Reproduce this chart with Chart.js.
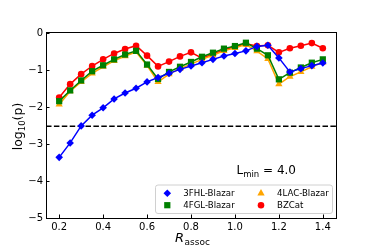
<!DOCTYPE html>
<html>
<head>
<meta charset="utf-8">
<script src="https://cdn.jsdelivr.net/npm/chart.js@4"></script>
<style>
  html, body { margin: 0; padding: 0; background: #fff; }
  #wrap { width: 374px; height: 249px; }
</style>
</head>
<body>
<div id="wrap"><canvas id="chart" width="374" height="249"></canvas></div>
<script>
// data
const rAssoc = [0.2, 0.25, 0.3, 0.35, 0.4, 0.45, 0.5, 0.55, 0.6, 0.65, 0.7, 0.75, 0.8,
                0.85, 0.9, 0.95, 1.0, 1.05, 1.1, 1.15, 1.2, 1.25, 1.3, 1.35, 1.4];
const fhlBlazar = [-3.36, -2.97, -2.51, -2.22, -2.02, -1.78, -1.62, -1.49, -1.32, -1.20, -1.09, -0.98, -0.89,
                   -0.80, -0.71, -0.62, -0.55, -0.48, -0.36, -0.33, -0.67, -1.05, -0.96, -0.88, -0.81];
const fglBlazar = [-1.84, -1.55, -1.28, -1.03, -0.87, -0.71, -0.58, -0.48, -0.85, -1.24, -1.05, -0.91, -0.78,
                   -0.64, -0.53, -0.42, -0.35, -0.26, -0.42, -0.60, -1.25, -1.07, -0.93, -0.80, -0.71];
const lacBlazar = [-1.93, -1.57, -1.32, -1.09, -0.91, -0.75, -0.62, -0.51, -0.88, -1.32, -1.11, -0.96, -0.84,
                   -0.71, -0.60, -0.48, -0.40, -0.31, -0.49, -0.70, -1.38, -1.18, -1.05, -0.91, -0.79];
const bzCat = [-1.74, -1.38, -1.11, -0.89, -0.71, -0.55, -0.43, -0.34, -0.61, -0.90, -0.77, -0.63, -0.52,
               -0.68, -0.57, -0.45, -0.37, -0.29, -0.35, -0.33, -0.52, -0.41, -0.34, -0.27, -0.41];
const seriesNames = ['3FHL-Blazar', '4FGL-Blazar', '4LAC-Blazar', 'BZCat'];
const xTicks = [0.2, 0.4, 0.6, 0.8, 1.0, 1.2, 1.4];
const yTicks = [-5, -4, -3, -2, -1, 0];
const threshold = -2.52;
const lMin = '4.0';

const FONT = 'DejaVu Sans';
const toPts = ys => ys.map((y, i) => ({ x: rAssoc[i], y: y }));

function mkSet(label, ys, color, style, r) {
    return {
        label: label,
        data: toPts(ys),
        showLine: true,
        borderColor: color,
        backgroundColor: color,
        borderWidth: 1.5,
        pointStyle: style,
        pointRadius: r,
        pointBorderWidth: 0,
        pointBackgroundColor: color
    };
}

// draw a marker the same way for the legend
function drawMarker(ctx, style, x, y, r, color) {
    ctx.save();
    ctx.fillStyle = color;
    ctx.beginPath();
    if (style === 'rectRot') {
        ctx.moveTo(x, y - r); ctx.lineTo(x + r, y); ctx.lineTo(x, y + r); ctx.lineTo(x - r, y);
    } else if (style === 'rect') {
        const s = r * Math.SQRT1_2;
        ctx.rect(x - s, y - s, 2 * s, 2 * s);
    } else if (style === 'triangle') {
        ctx.moveTo(x, y - r);
        ctx.lineTo(x + r * 0.866, y + r * 0.5);
        ctx.lineTo(x - r * 0.866, y + r * 0.5);
    } else {
        ctx.arc(x, y, r, 0, Math.PI * 2);
    }
    ctx.closePath();
    ctx.fill();
    ctx.restore();
}

const decor = {
    id: 'decor',
    beforeDatasetsDraw(chart) {
        const ctx = chart.ctx, a = chart.chartArea;
        const y = chart.scales.y.getPixelForValue(threshold);
        ctx.save();
        ctx.strokeStyle = '#000';
        ctx.lineWidth = 1.5;
        ctx.setLineDash([5.5, 2.4]);
        ctx.beginPath();
        ctx.moveTo(a.left, y);
        ctx.lineTo(a.right, y);
        ctx.stroke();
        ctx.restore();
    },
    afterDraw(chart) {
        const ctx = chart.ctx, a = chart.chartArea;
        const xs = chart.scales.x, ys = chart.scales.y;
        ctx.save();
        // frame
        ctx.strokeStyle = '#000';
        ctx.lineWidth = 1;
        ctx.strokeRect(Math.round(a.left) + 0.5, Math.round(a.top) + 0.5,
                       Math.round(a.right - a.left), Math.round(a.bottom - a.top));
        // inward ticks
        ctx.beginPath();
        xTicks.forEach(v => {
            const px = Math.round(xs.getPixelForValue(v)) + 0.5;
            ctx.moveTo(px, a.bottom);
            ctx.lineTo(px, a.bottom - 3.5);
        });
        yTicks.forEach(v => {
            const py = Math.round(ys.getPixelForValue(v)) + 0.5;
            ctx.moveTo(a.left, py);
            ctx.lineTo(a.left + 3.5, py);
        });
        ctx.stroke();

        // axis titles
        ctx.fillStyle = '#000';
        ctx.textBaseline = 'alphabetic';
        ctx.font = 'italic 13px ' + FONT;
        ctx.textAlign = 'left';
        const rx = 175;
        ctx.fillText('R', rx, 242);
        const rw = ctx.measureText('R').width;
        ctx.font = '9px ' + FONT;
        ctx.fillText('assoc', rx + rw + 0.5, 245);

        ctx.save();
        ctx.translate(22, 126.5);
        ctx.rotate(-Math.PI / 2);
        ctx.textAlign = 'left';
        const parts = [['log', 0, 12.5], ['10', 3, 8.5], ['(p)', 0, 12.5]];
        let total = 0;
        parts.forEach(p => { ctx.font = p[2] + 'px ' + FONT; total += ctx.measureText(p[0]).width; });
        let cx = -total / 2;
        parts.forEach(p => {
            ctx.font = p[2] + 'px ' + FONT;
            ctx.fillText(p[0], cx, p[1]);
            cx += ctx.measureText(p[0]).width;
        });
        ctx.restore();

        // L_min annotation
        let lx = 236.5;
        ctx.font = '12px ' + FONT;
        ctx.fillText('L', lx, 174);
        lx += ctx.measureText('L').width;
        ctx.font = '8.5px ' + FONT;
        ctx.fillText('min', lx, 177);
        lx += ctx.measureText('min').width;
        ctx.font = '12px ' + FONT;
        ctx.fillText(' = ' + lMin, lx, 174);

        // legend
        const bx = 155.5, by = 185, bw = 177, bh = 28.5;
        ctx.beginPath();
        ctx.roundRect(bx, by, bw, bh, 2.5);
        ctx.fillStyle = 'rgba(255,255,255,0.8)';
        ctx.fill();
        ctx.strokeStyle = '#d0d0d0';
        ctx.lineWidth = 1;
        ctx.stroke();
        const spots = [[167.3, 193.3], [167.3, 205.2], [261, 193.3], [261, 205.2]];
        chart.data.datasets.forEach((d, i) => {
            const [mx, my] = spots[i];
            drawMarker(ctx, d.pointStyle, mx, my, d.pointRadius, d.borderColor);
            ctx.fillStyle = '#000';
            ctx.font = '8.6px ' + FONT;
            ctx.textAlign = 'left';
            ctx.textBaseline = 'middle';
            ctx.fillText(d.label, mx + 16, my + 0.5);
        });
        ctx.restore();
    }
};

const minus = v => String(v).replace('-', '\u2212');

new Chart(document.getElementById('chart'), {
    type: 'scatter',
    data: {
        datasets: [
            mkSet(seriesNames[0], fhlBlazar, '#0000ff', 'rectRot', 3.8),
            mkSet(seriesNames[1], fglBlazar, '#008000', 'rect', 4.4),
            mkSet(seriesNames[2], lacBlazar, '#ffa500', 'triangle', 4.2),
            mkSet(seriesNames[3], bzCat, '#ff0000', 'circle', 3.3)
        ]
    },
    options: {
        responsive: false,
        animation: false,
        devicePixelRatio: 1,
        layout: { padding: { left: 0, top: 32, right: 38, bottom: 0 } },
        plugins: { legend: { display: false }, tooltip: { enabled: false } },
        scales: {
            x: {
                type: 'linear',
                min: 0.14, max: 1.46,
                grid: { display: false, drawTicks: false, tickLength: 0 },
                border: { display: false },
                afterBuildTicks: s => { s.ticks = xTicks.map(v => ({ value: v })); },
                afterFit: s => { s.height = 31; },
                ticks: {
                    color: '#000',
                    padding: 3,
                    maxRotation: 0,
                    font: { family: FONT, size: 10 },
                    callback: v => v.toFixed(1)
                }
            },
            y: {
                type: 'linear',
                min: -5, max: 0.03,
                grid: { display: false, drawTicks: false, tickLength: 0 },
                border: { display: false },
                afterBuildTicks: s => { s.ticks = yTicks.map(v => ({ value: v })); },
                afterFit: s => { s.width = 46; },
                ticks: {
                    color: '#000',
                    padding: 3,
                    font: { family: FONT, size: 10 },
                    callback: v => minus(v)
                }
            }
        }
    },
    plugins: [decor]
});
</script>
</body>
</html>
